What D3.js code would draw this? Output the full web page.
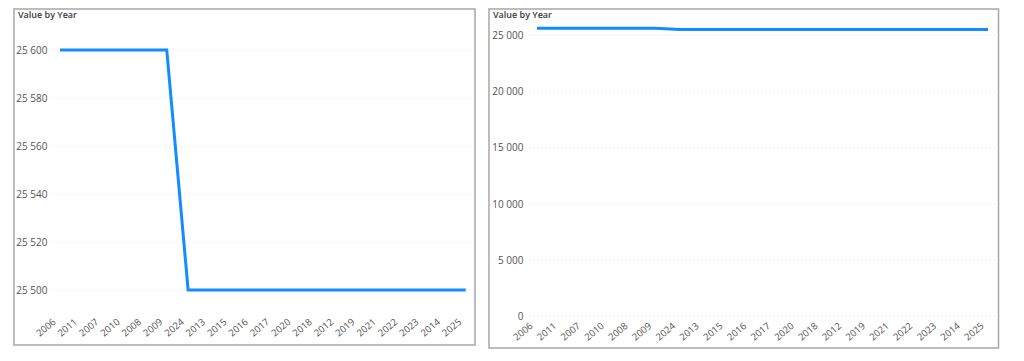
<!DOCTYPE html>
<html>
<head>
<meta charset="utf-8">
<script src="https://cdn.jsdelivr.net/npm/d3@7"></script>
<style>
  html, body { margin: 0; padding: 0; background: #fff; }
  svg { display: block; }
  text { font-family: "Open Sans", "Noto Sans", sans-serif; }
</style>
</head>
<body>
<svg id="chart" width="1024" height="361"></svg>
<script>
// ---- data ----
const years = ["2006","2011","2007","2010","2008","2009","2024","2013","2015","2016",
               "2017","2020","2018","2012","2019","2021","2022","2023","2014","2025"];
const values = [25600,25600,25600,25600,25600,25600,25500,25500,25500,25500,
                25500,25500,25500,25500,25500,25500,25500,25500,25500,25500];
const titleText = "Value by Year";
const leftTicks = [25500, 25520, 25540, 25560, 25580, 25600];
const rightTicks = [0, 5000, 10000, 15000, 20000, 25000];

// ---- formatting ----
const loc = d3.formatLocale({decimal: ",", thousands: " ", grouping: [3], currency: ["", ""]});
const fmt = loc.format(",d");

const svg = d3.select("#chart");

function panel(cfg) {
  const g = svg.append("g");
  // frame
  g.append("rect")
    .attr("x", cfg.frame[0]).attr("y", cfg.frame[1])
    .attr("width", cfg.frame[2]).attr("height", cfg.frame[3])
    .attr("fill", "#fff").attr("stroke", "#a6a6a6").attr("stroke-width", 1.5);
  // title
  g.append("text")
    .attr("x", cfg.frame[0] + 4).attr("y", 17.5)
    .attr("font-size", 9).attr("font-weight", 600).attr("fill", "#3b3a39")
    .text(titleText);

  const x = d3.scalePoint().domain(years).range(cfg.xr).padding(0);
  const y = d3.scaleLinear().domain(cfg.ydom).range(cfg.yr);

  // gridlines
  g.append("g").selectAll("line").data(cfg.ticks).join("line")
    .attr("x1", cfg.gridX[0]).attr("x2", cfg.gridX[1])
    .attr("y1", d => y(d)).attr("y2", d => y(d))
    .attr("stroke", "#dcdcdc").attr("stroke-width", 1)
    .attr("stroke-dasharray", "1,3");

  // y axis labels
  const yAxis = d3.axisLeft(y).tickValues(cfg.ticks).tickFormat(fmt).tickSize(0).tickPadding(0);
  const ya = g.append("g").attr("transform", `translate(${cfg.yLabelX},0)`).call(yAxis);
  ya.select(".domain").remove();
  ya.selectAll("text").attr("font-size", 10).attr("fill", "#555351")
    .attr("font-family", "'Open Sans', sans-serif").attr("dy", "0.34em");

  // x axis labels
  const xAxis = d3.axisBottom(x).tickSize(0).tickPadding(0);
  const xa = g.append("g").attr("transform", `translate(0,${cfg.xLabelY})`).call(xAxis);
  xa.select(".domain").remove();
  xa.selectAll("text")
    .attr("font-size", 9.5).attr("fill", "#555351")
    .attr("font-family", "'Open Sans', sans-serif")
    .attr("text-anchor", "end").attr("dy", 0).attr("y", 0)
    .attr("transform", "translate(-4,0) rotate(-40)");

  // line
  const line = d3.line().x((d, i) => x(years[i])).y(d => y(d));
  g.append("path").datum(values)
    .attr("d", line)
    .attr("fill", "none").attr("stroke", "#118dff")
    .attr("stroke-width", 3).attr("stroke-linejoin", "miter");
}

panel({
  frame: [14, 9, 461, 336],
  xr: [60, 465.7],
  ydom: [25500, 25600], yr: [290, 50],
  ticks: leftTicks,
  gridX: [53, 470],
  yLabelX: 47.5,
  xLabelY: 323
});

panel({
  frame: [489, 9, 509.5, 339],
  xr: [537, 988],
  ydom: [0, 25000], yr: [316, 35],
  ticks: rightTicks,
  gridX: [530, 997],
  yLabelX: 523.5,
  xLabelY: 327
});
</script>
</body>
</html>
